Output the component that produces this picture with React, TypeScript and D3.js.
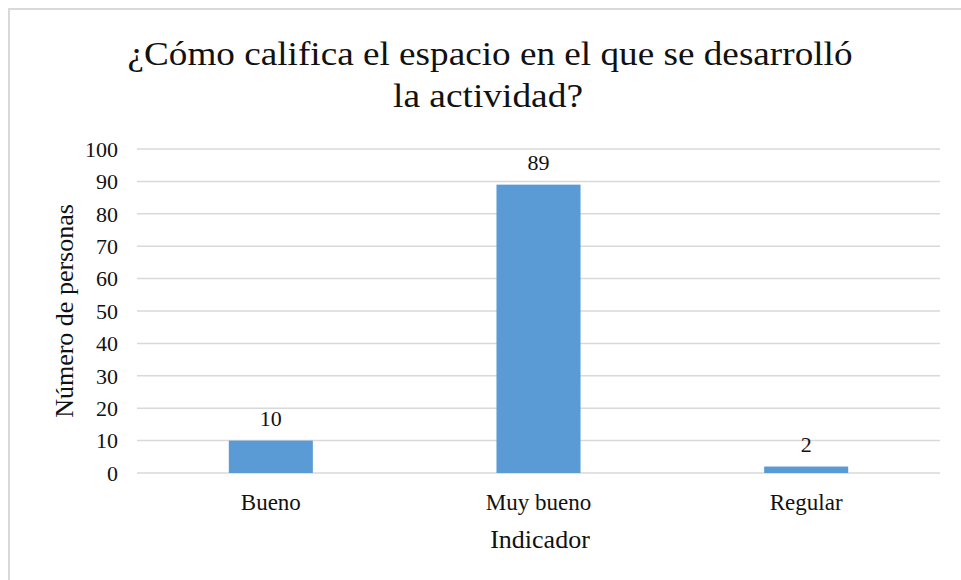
import React from 'react';
import * as d3 from 'd3';

const categories = ['Bueno', 'Muy bueno', 'Regular'];
const values = [10, 89, 2];
const yTicks = [0, 10, 20, 30, 40, 50, 60, 70, 80, 90, 100];
const titleLines = ['¿Cómo califica el espacio en el que se desarrolló', 'la actividad?'];
const xTitle = 'Indicador';
const yTitle = 'Número de personas';

const width = 961;
const height = 580;
const margin = { top: 149, right: 21, bottom: 107, left: 137 };
const font = 'Liberation Serif, Times New Roman, serif';

// title widths
const titleWidths = [725, 190];
const titleCenters = [490, 488];
const titleScale = 34 / 24;

function App() {
  const x = d3.scaleBand<string>()
    .domain(categories)
    .range([margin.left, width - margin.right])
    .paddingInner(0.686)
    .paddingOuter(0.343);

  const y = d3.scaleLinear()
    .domain([0, 100])
    .range([height - margin.bottom, margin.top]);

  const plotCenterY = (y(0) + y(100)) / 2;

  return (
    <svg width={width} height={height} style={{ position: 'absolute', left: 0, top: 0, background: '#fff' }}
      fontFamily={font} fill="#111">
      <rect x={9} y={9} width={width + 10} height={height + 10} fill="#fff" stroke="#d9d9d9" strokeWidth={2} />

      {titleLines.map((t, i) => (
        <g key={i} transform={`translate(${titleCenters[i]},${65 + i * 42}) scale(${titleScale})`}>
          <text x={0} y={0} textAnchor="middle" fontSize={24}
            textLength={titleWidths[i] / titleScale} lengthAdjust="spacingAndGlyphs">{t}</text>
        </g>
      ))}

      {yTicks.map(t => (
        <g key={t}>
          <line x1={margin.left} x2={width - margin.right} y1={y(t)} y2={y(t)} stroke="#d9d9d9" strokeWidth={1.5} />
          <text x={118} y={y(t)} dy="0.35em" textAnchor="end" fontSize={22}>{t}</text>
        </g>
      ))}

      {categories.map((c, i) => (
        <g key={c}>
          <rect x={x(c)} y={y(values[i])} width={x.bandwidth()} height={y(0) - y(values[i])} fill="#5b9bd5" />
          <text x={x(c)! + x.bandwidth() / 2} y={y(values[i]) - 15} textAnchor="middle" fontSize={22}>{values[i]}</text>
          <text x={x(c)! + x.bandwidth() / 2} y={510} textAnchor="middle" fontSize={23}>{c}</text>
        </g>
      ))}

      <text x={540} y={548} textAnchor="middle" fontSize={26}>{xTitle}</text>
      <text transform={`translate(73,${plotCenterY}) rotate(-90)`} textAnchor="middle" fontSize={26}>{yTitle}</text>
    </svg>
  );
}

export default App;
